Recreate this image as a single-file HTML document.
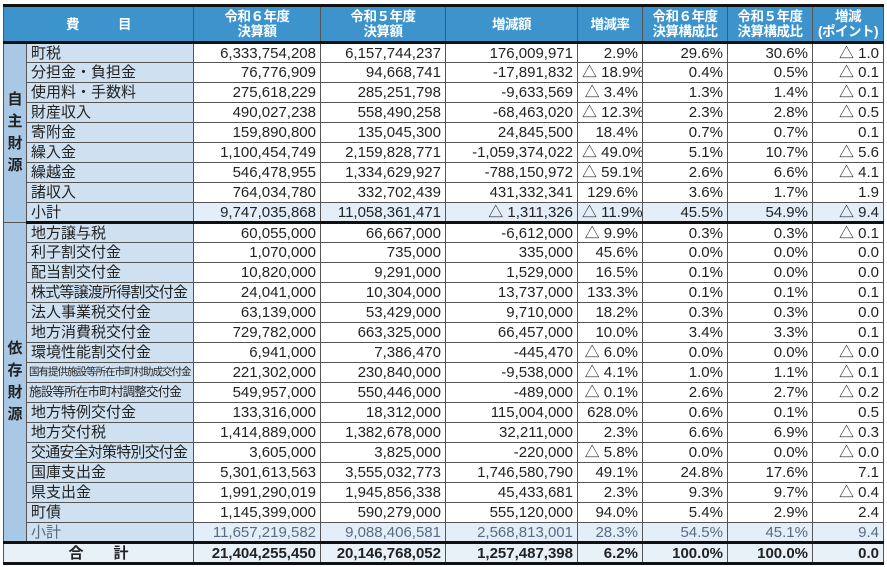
<!DOCTYPE html><html><head><meta charset="utf-8"><style>
body{margin:0;background:#fff;width:887px;height:567px;overflow:hidden}
table{position:absolute;left:3px;top:4px;width:880px;border-collapse:collapse;table-layout:fixed;font-family:"Liberation Sans","Noto Sans CJK JP",sans-serif;font-size:15px;color:#222}
td{border:1px solid #555;padding:0 4px;white-space:nowrap;overflow:hidden;text-align:right;line-height:17px;height:20px;box-sizing:border-box}
th{background:#3d93cc;color:#fff;font-weight:bold;font-size:13.5px;line-height:15px;border:1px solid #555;border-bottom:3px solid #111;padding:0;white-space:nowrap;letter-spacing:-0.5px;height:34px}
.g{background:#a9c8e6;text-align:center;font-weight:bold;font-size:15px;line-height:22px;padding:0;vertical-align:middle}
.n{background:#cfe0f0;text-align:left}
.s td{background:#e3eef9}
.s .n{background:#cfe0f0}
.s2 td{background:#e3eef9;color:#5a6a80}
.b td{border-bottom:3px solid #111}
.t td{background:#e8f0f8;font-weight:bold;border-bottom:3px solid #111;height:21px}
</style></head><body>
<table>
<colgroup><col style="width:23px"><col style="width:167px"><col style="width:127px"><col style="width:125px"><col style="width:132px"><col style="width:65px"><col style="width:85px"><col style="width:85px"><col style="width:71px"></colgroup>
<thead><tr style="border-top:3px solid #111"><th colspan="2">費　　　目</th><th>令和６年度<br>決算額</th><th>令和５年度<br>決算額</th><th>増減額</th><th>増減率</th><th>令和６年度<br>決算構成比</th><th>令和５年度<br>決算構成比</th><th>増減<br>(ポイント)</th></tr></thead>
<tbody>
<tr><td class="g" rowspan="9">自<br>主<br>財<br>源</td><td class="n">町税</td><td>6,333,754,208</td><td>6,157,744,237</td><td>176,009,971</td><td>2.9%</td><td>29.6%</td><td>30.6%</td><td>△ 1.0</td></tr>
<tr><td class="n">分担金・負担金</td><td>76,776,909</td><td>94,668,741</td><td>-17,891,832</td><td>△ 18.9%</td><td>0.4%</td><td>0.5%</td><td>△ 0.1</td></tr>
<tr><td class="n">使用料・手数料</td><td>275,618,229</td><td>285,251,798</td><td>-9,633,569</td><td>△ 3.4%</td><td>1.3%</td><td>1.4%</td><td>△ 0.1</td></tr>
<tr><td class="n">財産収入</td><td>490,027,238</td><td>558,490,258</td><td>-68,463,020</td><td>△ 12.3%</td><td>2.3%</td><td>2.8%</td><td>△ 0.5</td></tr>
<tr><td class="n">寄附金</td><td>159,890,800</td><td>135,045,300</td><td>24,845,500</td><td>18.4%</td><td>0.7%</td><td>0.7%</td><td>0.1</td></tr>
<tr><td class="n">繰入金</td><td>1,100,454,749</td><td>2,159,828,771</td><td>-1,059,374,022</td><td>△ 49.0%</td><td>5.1%</td><td>10.7%</td><td>△ 5.6</td></tr>
<tr><td class="n">繰越金</td><td>546,478,955</td><td>1,334,629,927</td><td>-788,150,972</td><td>△ 59.1%</td><td>2.6%</td><td>6.6%</td><td>△ 4.1</td></tr>
<tr><td class="n">諸収入</td><td>764,034,780</td><td>332,702,439</td><td>431,332,341</td><td>129.6%</td><td>3.6%</td><td>1.7%</td><td>1.9</td></tr>
<tr class="s b"><td class="n">小計</td><td>9,747,035,868</td><td>11,058,361,471</td><td>△ 1,311,326</td><td>△ 11.9%</td><td>45.5%</td><td>54.9%</td><td>△ 9.4</td></tr>
<tr><td class="g" rowspan="16" style="border-bottom:3px solid #111">依<br>存<br>財<br>源</td><td class="n">地方譲与税</td><td>60,055,000</td><td>66,667,000</td><td>-6,612,000</td><td>△ 9.9%</td><td>0.3%</td><td>0.3%</td><td>△ 0.1</td></tr>
<tr><td class="n">利子割交付金</td><td>1,070,000</td><td>735,000</td><td>335,000</td><td>45.6%</td><td>0.0%</td><td>0.0%</td><td>0.0</td></tr>
<tr><td class="n">配当割交付金</td><td>10,820,000</td><td>9,291,000</td><td>1,529,000</td><td>16.5%</td><td>0.1%</td><td>0.0%</td><td>0.0</td></tr>
<tr><td class="n" style="letter-spacing:-0.8px">株式等譲渡所得割交付金</td><td>24,041,000</td><td>10,304,000</td><td>13,737,000</td><td>133.3%</td><td>0.1%</td><td>0.1%</td><td>0.1</td></tr>
<tr><td class="n">法人事業税交付金</td><td>63,139,000</td><td>53,429,000</td><td>9,710,000</td><td>18.2%</td><td>0.3%</td><td>0.3%</td><td>0.0</td></tr>
<tr><td class="n">地方消費税交付金</td><td>729,782,000</td><td>663,325,000</td><td>66,457,000</td><td>10.0%</td><td>3.4%</td><td>3.3%</td><td>0.1</td></tr>
<tr><td class="n">環境性能割交付金</td><td>6,941,000</td><td>7,386,470</td><td>-445,470</td><td>△ 6.0%</td><td>0.0%</td><td>0.0%</td><td>△ 0.0</td></tr>
<tr><td class="n" style="font-size:10.5px;letter-spacing:-1px;padding:0 2px">国有提供施設等所在市町村助成交付金</td><td>221,302,000</td><td>230,840,000</td><td>-9,538,000</td><td>△ 4.1%</td><td>1.0%</td><td>1.1%</td><td>△ 0.1</td></tr>
<tr><td class="n" style="font-size:12.5px;letter-spacing:-0.8px;padding:0 2px">施設等所在市町村調整交付金</td><td>549,957,000</td><td>550,446,000</td><td>-489,000</td><td>△ 0.1%</td><td>2.6%</td><td>2.7%</td><td>△ 0.2</td></tr>
<tr><td class="n">地方特例交付金</td><td>133,316,000</td><td>18,312,000</td><td>115,004,000</td><td>628.0%</td><td>0.6%</td><td>0.1%</td><td>0.5</td></tr>
<tr><td class="n">地方交付税</td><td>1,414,889,000</td><td>1,382,678,000</td><td>32,211,000</td><td>2.3%</td><td>6.6%</td><td>6.9%</td><td>△ 0.3</td></tr>
<tr><td class="n" style="letter-spacing:-0.8px">交通安全対策特別交付金</td><td>3,605,000</td><td>3,825,000</td><td>-220,000</td><td>△ 5.8%</td><td>0.0%</td><td>0.0%</td><td>△ 0.0</td></tr>
<tr><td class="n">国庫支出金</td><td>5,301,613,563</td><td>3,555,032,773</td><td>1,746,580,790</td><td>49.1%</td><td>24.8%</td><td>17.6%</td><td>7.1</td></tr>
<tr><td class="n">県支出金</td><td>1,991,290,019</td><td>1,945,856,338</td><td>45,433,681</td><td>2.3%</td><td>9.3%</td><td>9.7%</td><td>△ 0.4</td></tr>
<tr><td class="n">町債</td><td>1,145,399,000</td><td>590,279,000</td><td>555,120,000</td><td>94.0%</td><td>5.4%</td><td>2.9%</td><td>2.4</td></tr>
<tr class="s2 b"><td class="n" style="background:#cfe0f0">小計</td><td>11,657,219,582</td><td>9,088,406,581</td><td>2,568,813,001</td><td>28.3%</td><td>54.5%</td><td>45.1%</td><td>9.4</td></tr>
<tr class="t"><td colspan="2" style="text-align:center">合　　計</td><td>21,404,255,450</td><td>20,146,768,052</td><td>1,257,487,398</td><td>6.2%</td><td>100.0%</td><td>100.0%</td><td>0.0</td></tr>
</tbody></table>
</body></html>
